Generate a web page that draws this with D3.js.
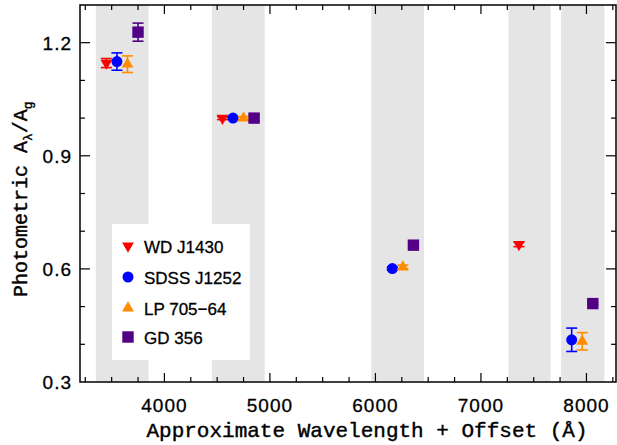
<!DOCTYPE html>
<html>
<head>
<meta charset="utf-8">
<script src="https://cdn.jsdelivr.net/npm/d3@7"></script>
<style>
  body { margin: 0; background: #fff; }
  svg { display: block; }
</style>
</head>
<body>
<div id="chart"></div>
<script>
// filter bands (Angstrom), grey shading
var bandLo = [3350, 4450, 5960, 7260, 7760];
var bandHi = [3850, 4950, 6460, 7660, 8170];
// base wavelength of each filter group, each star gets an extra offset
var baseWave = [3450, 4550, 6060, 7360, 7760];
var stars = ["WD J1430", "SDSS J1252", "LP 705\u221264", "GD 356"];
var starOffset = [0, 100, 200, 300];
var starColor = ["#ff0000", "#0000ff", "#ff8c00", "#520085"];
var starSymbol = ["down", "circle", "up", "square"];

// A_lambda / A_g  (null = not measured)
var wdVal   = [1.146, 1.000, null, 0.665, null];
var wdErr   = [0.012, 0.004, null, 0.006, null];
var sdssVal = [1.150, 1.000, 0.601, null, 0.412];
var sdssErr = [0.023, 0.003, 0.004, null, 0.031];
var lpVal   = [1.143, 1.000, 0.605, null, 0.408];
var lpErr   = [0.022, 0.004, 0.005, null, 0.023];
var gdVal   = [1.228, 1.000, 0.663, null, 0.508];
var gdErr   = [0.024, 0.008, 0.003, null, 0.003];

var xTicks = [4000, 5000, 6000, 7000, 8000];
var yTicks = [0.3, 0.6, 0.9, 1.2];

var allVals = [wdVal, sdssVal, lpVal, gdVal];
var allErrs = [wdErr, sdssErr, lpErr, gdErr];

var W = 617, H = 445;
var pl = 80, pr = 616, pt = 5, pb = 382;

var svg = d3.select("#chart").append("svg")
  .attr("width", W).attr("height", H);

var x = d3.scaleLinear().domain([3200, 8280]).range([pl, pr]);
var y = d3.scaleLinear().domain([0.3, 1.3]).range([pb, pt]);

// grey bands
svg.selectAll("rect.band").data(bandLo).enter().append("rect")
  .attr("class", "band")
  .attr("x", function(d) { return x(d); })
  .attr("width", function(d, i) { return x(bandHi[i]) - x(d); })
  .attr("y", pt)
  .attr("height", pb - pt)
  .style("fill", "#e5e5e5");

// legend box (under the points, over the bands)
svg.append("rect")
  .attr("x", 112).attr("y", 224)
  .attr("width", 138).attr("height", 136)
  .style("fill", "#fff");

function symbolFor(kind) {
  if (kind == "circle") return d3.symbol().type(d3.symbolCircle).size(95)();
  if (kind == "square") return d3.symbol().type(d3.symbolSquare).size(130)();
  return d3.symbol().type(d3.symbolTriangle).size(60)();
}

// build points
var points = [];
for (var s = 0; s < stars.length; s++) {
  for (var b = 0; b < baseWave.length; b++) {
    if (allVals[s][b] === null) continue;
    points.push({ s: s, wave: baseWave[b] + starOffset[s], val: allVals[s][b], err: allErrs[s][b] });
  }
}

var g = svg.append("g");
var capW = 5.5;
points.forEach(function(p) {
  var px = x(p.wave), py = y(p.val);
  var y0 = y(p.val - p.err), y1 = y(p.val + p.err);
  var c = starColor[p.s];
  g.append("line").attr("x1", px).attr("x2", px).attr("y1", y0).attr("y2", y1)
    .style("stroke", c).style("stroke-width", 1.6);
  g.append("line").attr("x1", px - capW).attr("x2", px + capW).attr("y1", y0).attr("y2", y0)
    .style("stroke", c).style("stroke-width", 1.6);
  g.append("line").attr("x1", px - capW).attr("x2", px + capW).attr("y1", y1).attr("y2", y1)
    .style("stroke", c).style("stroke-width", 1.6);
  var kind = starSymbol[p.s];
  var rot = kind == "down" ? " rotate(180)" : "";
  g.append("path").attr("d", symbolFor(kind))
    .attr("transform", "translate(" + px + "," + py + ")" + rot)
    .style("fill", c);
});

// legend
var legY = [247, 278, 309, 338];
stars.forEach(function(name, i) {
  var kind = starSymbol[i];
  var rot = kind == "down" ? " rotate(180)" : "";
  svg.append("path").attr("d", symbolFor(kind))
    .attr("transform", "translate(128," + (legY[i] - 1) + ")" + rot)
    .style("fill", starColor[i]);
  svg.append("text").attr("x", 144).attr("y", legY[i] + 6)
    .style("font-family", "Liberation Sans, Arial, sans-serif")
    .style("font-size", "17px")
    .style("stroke", "#000").style("stroke-width", 0.3)
    .style("fill", "#000")
    .text(name);
});

// frame and ticks
var axisColor = "#000";
svg.append("rect").attr("x", pl).attr("y", pt)
  .attr("width", pr - pl).attr("height", pb - pt)
  .style("fill", "none").style("stroke", axisColor).style("stroke-width", 1.5);

var xMinor = d3.range(3250, 8281, 250);
xMinor.forEach(function(v) {
  var major = v % 1000 == 0;
  var len = major ? 9 : 5;
  svg.append("line").attr("x1", x(v)).attr("x2", x(v)).attr("y1", pb).attr("y2", pb - len)
    .style("stroke", axisColor).style("stroke-width", 1.2);
  svg.append("line").attr("x1", x(v)).attr("x2", x(v)).attr("y1", pt).attr("y2", pt + len)
    .style("stroke", axisColor).style("stroke-width", 1.2);
});
var yMinor = d3.range(4, 13).map(function(k) { return k / 10; });
yMinor.forEach(function(v) {
  var major = yTicks.some(function(t) { return Math.abs(t - v) < 1e-6; });
  var len = major ? 10 : 5;
  svg.append("line").attr("x1", pl).attr("x2", pl + len).attr("y1", y(v)).attr("y2", y(v))
    .style("stroke", axisColor).style("stroke-width", 1.2);
  svg.append("line").attr("x1", pr).attr("x2", pr - len).attr("y1", y(v)).attr("y2", y(v))
    .style("stroke", axisColor).style("stroke-width", 1.2);
});

// tick labels
svg.selectAll("text.xt").data(xTicks).enter().append("text")
  .attr("class", "xt")
  .attr("x", function(d) { return x(d); })
  .attr("y", 412)
  .attr("text-anchor", "middle")
  .style("font-family", "Liberation Sans, Arial, sans-serif")
  .style("font-size", "19px")
  .style("letter-spacing", "1px")
  .style("stroke", "#000").style("stroke-width", 0.3)
  .text(function(d) { return d; });

svg.selectAll("text.yt").data(yTicks).enter().append("text")
  .attr("class", "yt")
  .attr("x", 72)
  .attr("y", function(d) { return y(d) + 7; })
  .attr("text-anchor", "end")
  .style("font-family", "Liberation Sans, Arial, sans-serif")
  .style("font-size", "19px")
  .style("letter-spacing", "1px")
  .style("stroke", "#000").style("stroke-width", 0.3)
  .text(function(d) { return d.toFixed(1); });

// axis titles
svg.append("text")
  .attr("x", 367)
  .attr("y", 437)
  .attr("text-anchor", "middle")
  .style("font-family", "Liberation Mono, Courier New, monospace")
  .style("font-size", "21px")
  .style("stroke", "#000").style("stroke-width", 0.4)
  .text("Approximate Wavelength + Offset (\u00C5)");

var yl = svg.append("text")
  .attr("transform", "translate(27,297) rotate(-90)")
  .attr("text-anchor", "start")
  .style("font-family", "Liberation Mono, Courier New, monospace")
  .style("font-size", "20px")
  .style("stroke", "#000").style("stroke-width", 0.4);
yl.append("tspan").text("Photometric A");
yl.append("tspan").attr("dy", 5).style("font-size", "13px").text("\u03BB");
yl.append("tspan").attr("dy", -5).text("/A");
yl.append("tspan").attr("dy", 5).style("font-size", "13px").text("g");
</script>
</body>
</html>
